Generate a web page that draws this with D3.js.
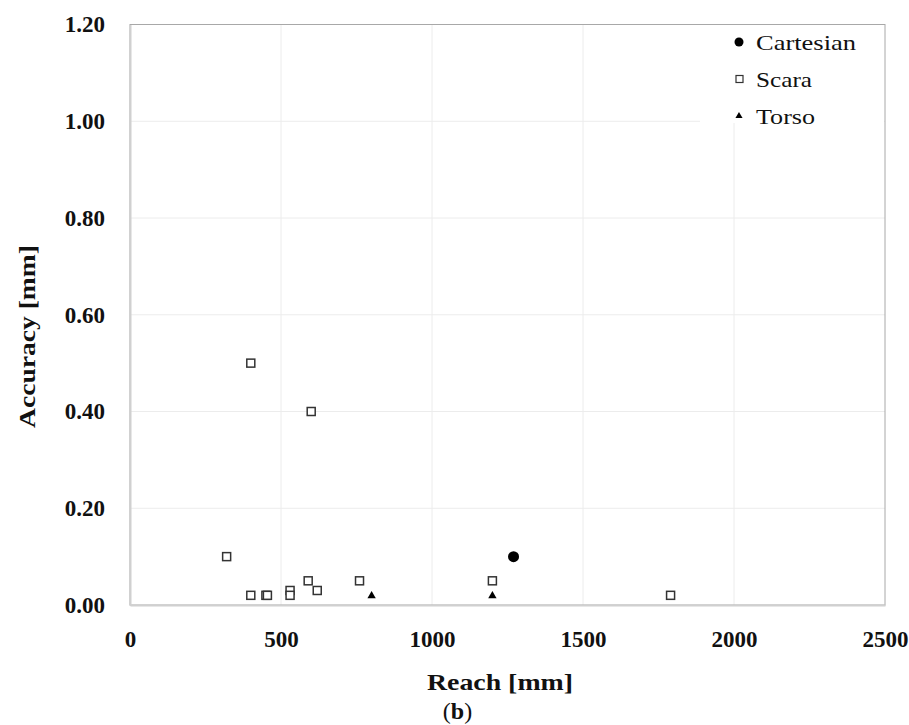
<!DOCTYPE html>
<html><head><meta charset="utf-8">
<script src="https://cdn.jsdelivr.net/npm/d3@7"></script>
<style>
html,body{margin:0;padding:0;background:#fff;}
svg{display:block;font-family:"Liberation Serif","Times New Roman",serif;}
</style></head>
<body>
<svg id="chart" width="909" height="725"></svg>
<script>
// Data
const cartesianReach = [1270];
const cartesianAcc   = [0.10];
const scaraReach = [320, 400, 400, 450, 455, 530, 530, 590, 600, 620, 760, 1200, 1790];
const scaraAcc   = [0.10, 0.50, 0.02, 0.02, 0.02, 0.03, 0.02, 0.05, 0.40, 0.03, 0.05, 0.05, 0.02];
const torsoReach = [800, 1200];
const torsoAcc   = [0.02, 0.02];
const xTicks = [0, 500, 1000, 1500, 2000, 2500];
const yTicks = [0, 0.2, 0.4, 0.6, 0.8, 1.0, 1.2];
const seriesNames = ["Cartesian", "Scara", "Torso"];

const svg = d3.select("#chart");
const x = d3.scaleLinear().domain([0, 2500]).range([130, 885]);
const y = d3.scaleLinear().domain([0, 1.2]).range([605, 24.5]);

// gridlines
svg.append("g").selectAll("line.h").data(yTicks.slice(1, -1)).join("line")
  .attr("x1", x(0)).attr("x2", x(2500))
  .attr("y1", d => y(d)).attr("y2", d => y(d))
  .attr("stroke", "#ececec").attr("stroke-width", 1);
svg.append("g").selectAll("line.v").data(xTicks.slice(1, -1)).join("line")
  .attr("y1", y(0)).attr("y2", y(1.2))
  .attr("x1", d => x(d)).attr("x2", d => x(d))
  .attr("stroke", "#ececec").attr("stroke-width", 1);

// plot border
svg.append("rect").attr("x", x(0)).attr("y", y(1.2))
  .attr("width", x(2500) - x(0)).attr("height", y(0) - y(1.2))
  .attr("fill", "none").attr("stroke", "#a8a8a8").attr("stroke-width", 1);

// axes
const xAxis = svg.append("g").attr("transform", `translate(0,${y(0)})`)
  .call(d3.axisBottom(x).tickValues(xTicks).tickSize(0).tickPadding(26).tickFormat(d3.format("d")));
const yAxis = svg.append("g").attr("transform", `translate(${x(0)},0)`)
  .call(d3.axisLeft(y).tickValues(yTicks).tickSize(0).tickPadding(25).tickFormat(d3.format(".2f")));
[xAxis, yAxis].forEach(g => {
  g.select(".domain").attr("stroke", "#d0d0d0").attr("stroke-width", 2);
  g.selectAll("text").attr("font-family", "Liberation Serif, serif")
    .attr("font-size", 23).attr("font-weight", "bold").attr("fill", "#111");
});

// legend background
svg.append("rect").attr("x", 700).attr("y", 25).attr("width", 184).attr("height", 98).attr("fill", "#fff");

// markers
const sq = 8;
svg.append("g").selectAll("rect").data(scaraReach.map((r, i) => [r, scaraAcc[i]])).join("rect")
  .attr("x", d => x(d[0]) - sq / 2).attr("y", d => y(d[1]) - sq / 2)
  .attr("width", sq).attr("height", sq)
  .attr("fill", "#fff").attr("stroke", "#333").attr("stroke-width", 1.5);
svg.append("g").selectAll("circle").data(cartesianReach.map((r, i) => [r, cartesianAcc[i]])).join("circle")
  .attr("cx", d => x(d[0])).attr("cy", d => y(d[1])).attr("r", 5.5).attr("fill", "#000");
const tri = d3.symbol().type(d3.symbolTriangle).size(30);
svg.append("g").selectAll("path").data(torsoReach.map((r, i) => [r, torsoAcc[i]])).join("path")
  .attr("d", tri).attr("transform", d => `translate(${x(d[0])},${y(d[1]) + 0.5})`).attr("fill", "#000");

// legend
const legY = [42, 79, 116];
const legW = [100, 56, 59];
const lg = svg.append("g");
lg.append("circle").attr("cx", 739).attr("cy", legY[0]).attr("r", 4.5).attr("fill", "#000");
lg.append("rect").attr("x", 736).attr("y", legY[1] - 3.5).attr("width", 7).attr("height", 7)
  .attr("fill", "#fff").attr("stroke", "#333").attr("stroke-width", 1.2);
lg.append("path").attr("d", d3.symbol().type(d3.symbolTriangle).size(22)).attr("transform", `translate(739,${legY[2]})`).attr("fill", "#000");
seriesNames.forEach((n, i) => {
  lg.append("text").attr("x", 756).attr("y", legY[i] + 8)
    .attr("font-size", 22).attr("fill", "#111")
    .attr("textLength", legW[i]).attr("lengthAdjust", "spacingAndGlyphs").text(n);
});

// axis titles
svg.append("text").attr("x", 500).attr("y", 690).attr("text-anchor", "middle")
  .attr("font-size", 24).attr("font-weight", "bold").attr("fill", "#111")
  .attr("textLength", 146).attr("lengthAdjust", "spacingAndGlyphs").text("Reach [mm]");
svg.append("text").attr("transform", "translate(35,336.5) rotate(-90)").attr("text-anchor", "middle")
  .attr("font-size", 24).attr("font-weight", "bold").attr("fill", "#111")
  .attr("textLength", 183).attr("lengthAdjust", "spacingAndGlyphs").text("Accuracy [mm]");
const cap = svg.append("text").attr("x", 457.5).attr("y", 719).attr("text-anchor", "middle")
  .attr("font-size", 24).attr("fill", "#111");
cap.append("tspan").text("(");
cap.append("tspan").attr("font-weight", "bold").text("b");
cap.append("tspan").text(")");
</script>
</body></html>
